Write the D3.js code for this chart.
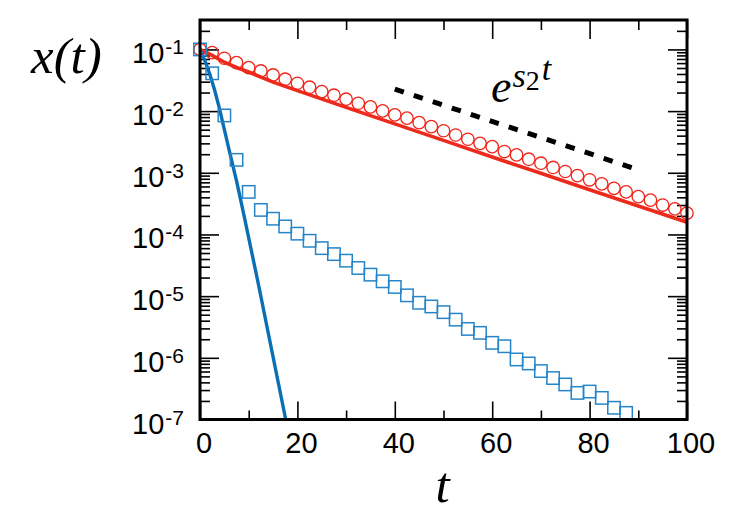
<!DOCTYPE html>
<html>
<head>
<meta charset="utf-8">
<script src="https://cdn.jsdelivr.net/npm/d3@7"></script>
<style>
  body { margin: 0; background: #fff; }
</style>
</head>
<body>
<div id="chart"></div>
<script>
// values
const circleT = [0, 2.5, 5, 7.5, 10, 12.5, 15, 17.5, 20, 22.5, 25, 27.5, 30, 32.5, 35, 37.5, 40,
    42.5, 45, 47.5, 50, 52.5, 55, 57.5, 60, 62.5, 65, 67.5, 70, 72.5, 75, 77.5, 80, 82.5, 85,
    87.5, 90, 92.5, 95, 97.5, 100];
const circleX = [0.1, 0.0887, 0.072, 0.061, 0.0507, 0.0448, 0.0386, 0.0329, 0.0283, 0.0244,
    0.0207, 0.0181, 0.0156, 0.0134, 0.0117, 0.0101, 8.7e-3, 7.7e-3, 6.5e-3, 5.6e-3, 4.8e-3,
    4.1e-3, 3.5e-3, 3.0e-3, 2.66e-3, 2.21e-3, 1.95e-3, 1.66e-3, 1.43e-3, 1.22e-3, 1.05e-3,
    9.0e-4, 7.7e-4, 6.6e-4, 5.6e-4, 4.9e-4, 4.1e-4, 3.6e-4, 3.0e-4, 2.6e-4, 2.22e-4];

const squareT = [0, 2.5, 5, 7.5, 10, 12.5, 15, 17.5, 20, 22.5, 25, 27.5, 30, 32.5, 35, 37.5, 40,
    42.5, 45, 47.5, 50, 52.5, 55, 57.5, 60, 62.5, 65, 67.5, 70, 72.5, 75, 77.5, 80, 82.5, 85, 87.5];
const squareX = [0.1, 0.041, 8.5e-3, 1.62e-3, 4.9e-4, 2.5e-4, 1.8e-4, 1.35e-4, 1.03e-4, 7.9e-5,
    6.0e-5, 4.8e-5, 3.76e-5, 2.86e-5, 2.23e-5, 1.74e-5, 1.41e-5, 1.03e-5, 7.8e-6, 6.8e-6, 5.5e-6,
    4.16e-6, 2.94e-6, 2.54e-6, 1.75e-6, 1.54e-6, 9.4e-7, 8.1e-7, 6.1e-7, 4.7e-7, 3.7e-7, 2.7e-7,
    2.84e-7, 2.24e-7, 1.55e-7, 1.28e-7];

const redLineT = [0, 2.5, 5, 7.5, 10, 15, 20, 30, 40, 50, 60, 70, 80, 90, 100];
const redLineX = [0.1, 0.080, 0.062, 0.051, 0.043, 0.0295, 0.0215, 0.0115, 6.2e-3, 3.35e-3,
    1.8e-3, 9.8e-4, 5.3e-4, 2.9e-4, 1.58e-4];

const blueLineT = [0, 1, 2, 3, 4, 6, 7.5, 9, 12, 17.6];
const blueLineX = [0.1, 0.066, 0.040, 0.022, 0.011, 2.3e-3, 7.4e-4, 2.1e-4, 1.55e-5, 1.0e-7];

const guideT = [40, 90];
const guideX = [0.0227, 1.12e-3];

const xTicks = [0, 20, 40, 60, 80, 100];
const xMinor = [10, 30, 50, 70, 90];
const yExponents = [-7, -6, -5, -4, -3, -2, -1];

const width = 750;
const height = 525;
const margin = { top: 20, right: 63, bottom: 105.5, left: 200 };

const svg = d3
    .select("#chart")
    .append("svg")
    .attr("width", width)
    .attr("height", height);

const x = d3
    .scaleLinear()
    .domain([0, 100])
    .range([margin.left, width - margin.right]);
const y = d3
    .scaleLog()
    .domain([1e-7, 0.3])
    .range([height - margin.bottom, margin.top]);

const x0 = margin.left, x1 = width - margin.right;
const y0 = height - margin.bottom, y1 = margin.top;

// tick positions
const yMajor = yExponents.map((e) => Math.pow(10, e));
const yMinor = [];
yExponents.forEach((e) => {
    for (let m = 2; m <= 9; m++) {
        const v = m * Math.pow(10, e);
        if (v <= 0.3) yMinor.push(v);
    }
});

const tickAxis = (axis, pos, values, size) => {
    const g = svg
        .append("g")
        .attr("transform", pos)
        .call(axis.tickValues(values).tickSize(-size).tickFormat(""));
    g.select(".domain").remove();
    g.selectAll(".tick line").attr("stroke", "#000").attr("stroke-width", 1.6);
};

tickAxis(d3.axisLeft(y), "translate(" + x0 + ",0)", yMajor, 19);
tickAxis(d3.axisLeft(y), "translate(" + x0 + ",0)", yMinor, 10);
tickAxis(d3.axisRight(y), "translate(" + x1 + ",0)", yMajor, 19);
tickAxis(d3.axisRight(y), "translate(" + x1 + ",0)", yMinor, 10);
tickAxis(d3.axisBottom(x), "translate(0," + y0 + ")", xTicks, 18);
tickAxis(d3.axisBottom(x), "translate(0," + y0 + ")", xMinor, 9);
tickAxis(d3.axisTop(x), "translate(0," + y1 + ")", xTicks, 19);
tickAxis(d3.axisTop(x), "translate(0," + y1 + ")", xMinor, 10);

// clip for the lines
svg.append("clipPath")
    .attr("id", "plot-clip")
    .append("rect")
    .attr("x", x0)
    .attr("y", y1)
    .attr("width", x1 - x0)
    .attr("height", y0 - y1);

const line = d3
    .line()
    .x((d) => x(d[0]))
    .y((d) => y(d[1]));

const lines = svg.append("g").attr("clip-path", "url(#plot-clip)");

lines.append("path")
    .datum(redLineT.map((t, i) => [t, redLineX[i]]))
    .attr("fill", "none")
    .attr("stroke", "#ee2a1c")
    .attr("stroke-width", 3.6)
    .attr("d", line);

lines.append("path")
    .datum(blueLineT.map((t, i) => [t, blueLineX[i]]))
    .attr("fill", "none")
    .attr("stroke", "#0a6fb4")
    .attr("stroke-width", 3.4)
    .attr("d", line);

svg.append("path")
    .datum(guideT.map((t, i) => [t, guideX[i]]))
    .attr("fill", "none")
    .attr("stroke", "#000")
    .attr("stroke-width", 5)
    .attr("stroke-dasharray", "9.5,10.5")
    .attr("d", line);

// markers
svg.append("g")
    .selectAll("circle")
    .data(circleT.map((t, i) => [t, circleX[i]]))
    .enter()
    .append("circle")
    .attr("cx", (d) => x(d[0]))
    .attr("cy", (d) => y(d[1]))
    .attr("r", 6.2)
    .attr("fill", "none")
    .attr("stroke", "#f02418")
    .attr("stroke-width", 1.3);

const sq = 12.4;
svg.append("g")
    .selectAll("rect")
    .data(squareT.map((t, i) => [t, squareX[i]]))
    .enter()
    .append("rect")
    .attr("x", (d) => x(d[0]) - sq / 2)
    .attr("y", (d) => y(d[1]) - sq / 2)
    .attr("width", sq)
    .attr("height", sq)
    .attr("fill", "none")
    .attr("stroke", "#2585c8")
    .attr("stroke-width", 1.5);

// frame
svg.append("rect")
    .attr("x", x0)
    .attr("y", y1)
    .attr("width", x1 - x0)
    .attr("height", y0 - y1)
    .attr("fill", "none")
    .attr("stroke", "#000")
    .attr("stroke-width", 3);

// tick labels
svg.append("g")
    .selectAll("text")
    .data(xTicks)
    .enter()
    .append("text")
    .attr("x", (d) => x(d) + 4)
    .attr("y", 453)
    .attr("text-anchor", "middle")
    .style("font-family", "'Liberation Sans', Arial, sans-serif")
    .style("font-size", "29px")
    .text((d) => d);

const yLabels = svg.append("g")
    .selectAll("text")
    .data(yExponents)
    .enter()
    .append("text")
    .attr("x", 184)
    .attr("y", (d) => y(Math.pow(10, d)) + 14)
    .attr("text-anchor", "end")
    .style("font-family", "'Liberation Sans', Arial, sans-serif")
    .style("font-size", "29px");
yLabels.append("tspan").text("10");
yLabels.append("tspan")
    .attr("dy", -9)
    .attr("dx", 1)
    .style("font-size", "21px")
    .text((d) => d);

// axis titles
const serif = "'Liberation Serif', 'Times New Roman', serif";
svg.append("text")
    .attr("x", 31)
    .attr("y", 73)
    .style("font-family", serif)
    .style("font-style", "italic")
    .style("font-size", "51px")
    .text("x(t)");

svg.append("text")
    .attr("x", (x0 + x1) / 2 - 1)
    .attr("y", 502)
    .attr("text-anchor", "middle")
    .style("font-family", serif)
    .style("font-style", "italic")
    .style("font-size", "51px")
    .text("t");

// annotation e^{s_2 t}
const note = svg.append("text")
    .attr("x", 491)
    .attr("y", 102)
    .style("font-family", serif)
    .style("font-size", "46px");
note.append("tspan").style("font-style", "italic").text("e");
note.append("tspan").attr("dy", -15).attr("dx", 1).style("font-style", "italic").style("font-size", "34px").text("s");
note.append("tspan").attr("dy", 3).style("font-size", "28px").text("2");
note.append("tspan").attr("dy", -10).attr("dx", 2).style("font-style", "italic").style("font-size", "34px").text("t");
</script>
</body>
</html>
